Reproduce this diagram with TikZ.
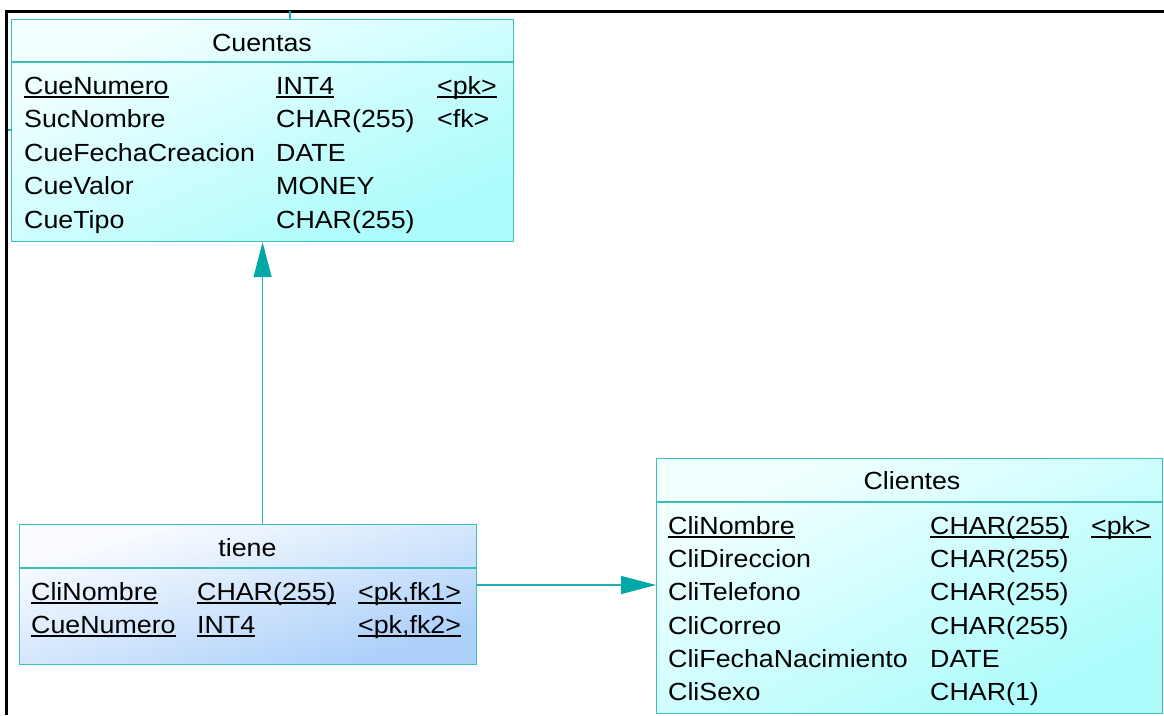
\documentclass[tikz,border=0pt]{standalone}
\usepackage{fontspec}
\setmainfont{Liberation Sans}[FakeStretch=1.08]
\usetikzlibrary{arrows.meta}
\definecolor{edge}{HTML}{3CBEBE}
\definecolor{link}{HTML}{1CB0B0}
\definecolor{tip}{HTML}{00A8A8}
\definecolor{cyanA}{HTML}{F2FFFF}
\definecolor{cyanB}{HTML}{ADFCFC}
\definecolor{blueA}{HTML}{FAFCFF}
\definecolor{blueB}{HTML}{AED1FA}
% underline at a fixed depth below the baseline
\newcommand\keyul[1]{\setbox0\hbox{#1}\rlap{\rule[-3.6pt]{\wd0}{1.3pt}}\box0}
% corner-to-corner gradient behind a table: left, bottom, width, height, light, dark
\newcommand\tablefill[6]{%
  \begin{scope}[transform canvas={shift={(#1pt,-#2pt)},xscale=#3,yscale=#4}]
    \shade[top color=#5,bottom color=#6,shading angle=45] (0pt,0pt) rectangle (1pt,1pt);
  \end{scope}}
\begin{document}
\begin{tikzpicture}[x=1pt,y=-1pt,
  font=\fontsize{24.8}{28}\selectfont,
  tbl/.style={draw=edge,line width=1.2pt,inner sep=0pt,anchor=north west},
  cell/.style={anchor=base west,inner sep=0pt},
  head/.style={anchor=base,inner sep=0pt},
  rel/.style={draw=link,line width=1.2pt,-{Triangle[length=35pt,width=18pt,fill=tip,color=tip]}},
  frame/.style={line width=3pt,black}]
\useasboundingbox (0,0) rectangle (1164,715);

% outer frame
\draw[frame] (6.5,715) -- (6.5,11) -- (1164,11);

% table backgrounds
\tablefill{11}{241}{502}{222}{cyanA}{cyanB}
\tablefill{19}{664}{457}{140}{blueA}{blueB}
\tablefill{656}{713}{506}{255}{cyanA}{cyanB}

% Cuentas
\node[tbl,minimum width=502pt,minimum height=222pt] (cuentas) at (11,19) {};
\draw[edge,line width=1.2pt] (11,62) -- (513,62);
\node[head] (cuentasT) at (262,51) {Cuentas};
\node[cell] (c1a) at (24,94) {\keyul{CueNumero}};
\node[cell] (c1b) at (276,94) {\keyul{INT4}};
\node[cell] (c1c) at (437,94) {\keyul{<pk>}};
\node[cell] (c2a) at (24,127.5) {SucNombre};
\node[cell] (c2b) at (276,127.5) {CHAR(255)};
\node[cell] (c2c) at (437,127.5) {<fk>};
\node[cell] (c3a) at (24,161) {CueFechaCreacion};
\node[cell] (c3b) at (276,161) {DATE};
\node[cell] (c4a) at (24,194.5) {CueValor};
\node[cell] (c4b) at (276,194.5) {MONEY};
\node[cell] (c5a) at (24,228) {CueTipo};
\node[cell] (c5b) at (276,228) {CHAR(255)};

% tiene
\node[tbl,minimum width=457pt,minimum height=140pt] (tiene) at (19,524) {};
\draw[edge,line width=1.2pt] (19,568) -- (476,568);
\node[head] (tieneT) at (247.5,556) {tiene};
\node[cell] (t1a) at (31,600) {\keyul{CliNombre}};
\node[cell] (t1b) at (197,600) {\keyul{CHAR(255)}};
\node[cell] (t1c) at (358,600) {\keyul{<pk,fk1>}};
\node[cell] (t2a) at (31,633) {\keyul{CueNumero}};
\node[cell] (t2b) at (197,633) {\keyul{INT4}};
\node[cell] (t2c) at (358,633) {\keyul{<pk,fk2>}};

% Clientes
\node[tbl,minimum width=506pt,minimum height=255pt] (clientes) at (656,458) {};
\draw[edge,line width=1.2pt] (656,502) -- (1162,502);
\node[head] (clientesT) at (912,489) {Clientes};
\node[cell] (k1a) at (668,534) {\keyul{CliNombre}};
\node[cell] (k1b) at (930,534) {\keyul{CHAR(255)}};
\node[cell] (k1c) at (1091,534) {\keyul{<pk>}};
\node[cell] (k2a) at (668,567) {CliDireccion};
\node[cell] (k2b) at (930,567) {CHAR(255)};
\node[cell] (k3a) at (668,600.5) {CliTelefono};
\node[cell] (k3b) at (930,600.5) {CHAR(255)};
\node[cell] (k4a) at (668,634) {CliCorreo};
\node[cell] (k4b) at (930,634) {CHAR(255)};
\node[cell] (k5a) at (668,667) {CliFechaNacimiento};
\node[cell] (k5b) at (930,667) {DATE};
\node[cell] (k6a) at (668,700.5) {CliSexo};
\node[cell] (k6b) at (930,700.5) {CHAR(1)};

% references
\coordinate (join) at (0,585);
\draw[rel] (tiene.north -| cuentas.south) -- (cuentas.south);
\draw[rel] (tiene.east |- join) -- (clientes.west |- join);

% short stubs of links leaving Cuentas
\coordinate (stubTop) at (290,11);
\coordinate (stubLeft) at (8,130);
\draw[link,line width=1.2pt] (stubTop) -- (stubTop |- cuentas.north);
\draw[link,line width=1.2pt] (stubLeft) -- (stubLeft -| cuentas.west);
\end{tikzpicture}
\end{document}
